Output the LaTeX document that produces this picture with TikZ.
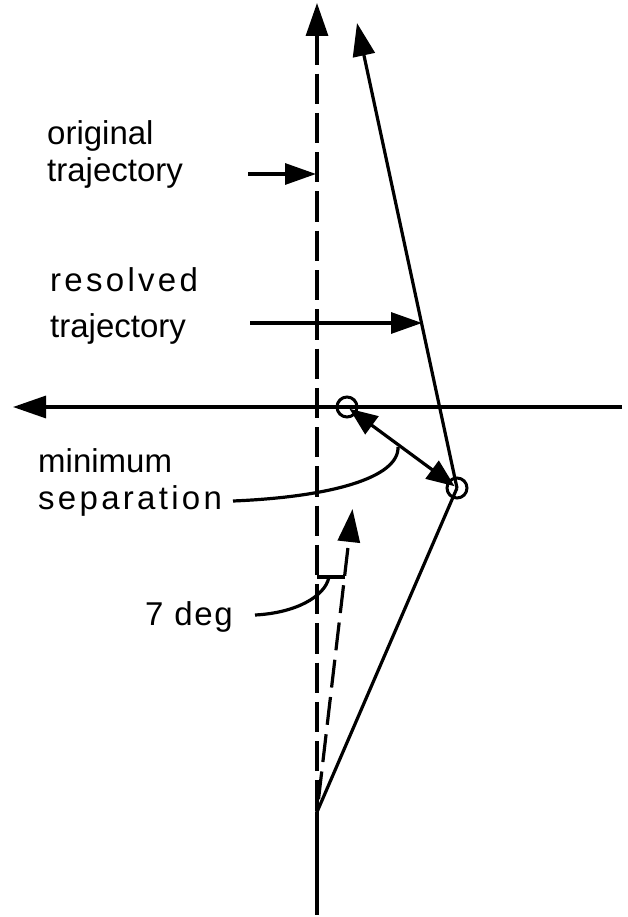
\documentclass[tikz,border=0pt]{standalone}
\usepackage{fontspec}
\setmainfont{Liberation Sans}
\usetikzlibrary{arrows.meta}
\begin{document}
\begin{tikzpicture}[x=1pt,y=-1pt,
  ln/.style={line width=3.2pt},
  tip/.style={-{Triangle[length=33pt,width=22pt]}},
  stip/.style={-{Triangle[length=31pt,width=21pt]}},
  dtip/.style={{Triangle[length=28pt,width=22pt]}-{Triangle[length=28pt,width=22pt]}},
  dsh/.style={ln, dash pattern=on 30.25pt off 9pt},
  dsh7/.style={ln, dash pattern=on 28pt off 9.5pt},
  lbl/.style={inner sep=0pt, anchor=base west, font=\fontsize{33}{40}\selectfont},
  lbls/.style={inner sep=0pt, anchor=base west, font=\fontsize{33}{40}\selectfont\addfontfeature{LetterSpace=10}},
  lbld/.style={inner sep=0pt, anchor=base west, font=\fontsize{33}{40}\selectfont\addfontfeature{LetterSpace=5}},
  ring/.style={circle, draw, line width=3pt, minimum size=20pt, inner sep=0pt}]
\useasboundingbox (0,0) rectangle (627,917);
% key points
\coordinate (O) at (317,812);
\coordinate (B) at (317,915);
\coordinate (T) at (317,3);
\coordinate (Tb) at (317,36);
\coordinate (D0) at (317,34.5);
\coordinate (C1) at (347,407);
\coordinate (C2) at (457,488);
\coordinate (R) at (357,23);
\coordinate (H0) at (622,407);
\coordinate (H1) at (13,407);
\coordinate (S) at (352.5,509);
\coordinate (Sb) at (348.9,541);
\coordinate (Sd) at (347.9,548);
\coordinate (K1) at (317,577);
\coordinate (K2) at (345,577);
% original trajectory (vertical)
\draw[dsh] (D0) -- (O);
\draw[ln] (O) -- (B);
\draw[ln,tip] (Tb) -- (T);
% 7 deg line
\draw[dsh7] (Sd) -- (O);
\draw[ln,tip] (Sb) -- (S);
\draw[ln] (K1) -- (K2);
% resolved trajectory
\draw[ln] (O) -- (C2);
\draw[ln,tip] (C2) -- (R);
% horizontal trajectory
\draw[ln,tip] (H0) -- (H1);
% circles
\node[ring] (c1) at (C1) {};
\node[ring] (c2) at (C2) {};
\draw[ln,dtip,shorten <=3pt,shorten >=3pt] (c1.center) -- (c2.center);
% labels
\node[lbl] (o1) at (47,145) {original};
\node[lbl] (o2) at (47,182) {trajectory};
\node[lbls] (r1) at (50,291) {resolved};
\node[lbl] (r2) at (50,337) {trajectory};
\node[lbl] (m1) at (38,472) {minimum};
\node[lbls] (m2) at (38,509) {separation};
\node[lbld] (d) at (145,625) {7 deg};
% label connectors
\coordinate (oa) at (248,174);
\coordinate (ob) at (316,174);
\coordinate (ra) at (250,323);
\coordinate (rb) at (422,323);
\coordinate (ma) at (233,501);
\coordinate (mb) at (398,447);
\coordinate (da) at (255,615);
\coordinate (db) at (329,577);
\draw[ln,stip] (oa) -- (ob);
\draw[ln,stip] (ra) -- (rb);
\draw[ln] (ma) .. controls (330,497) and (399,478) .. (mb);
\draw[ln] (da) .. controls (295,613) and (325,597) .. (db);
\end{tikzpicture}
\end{document}
